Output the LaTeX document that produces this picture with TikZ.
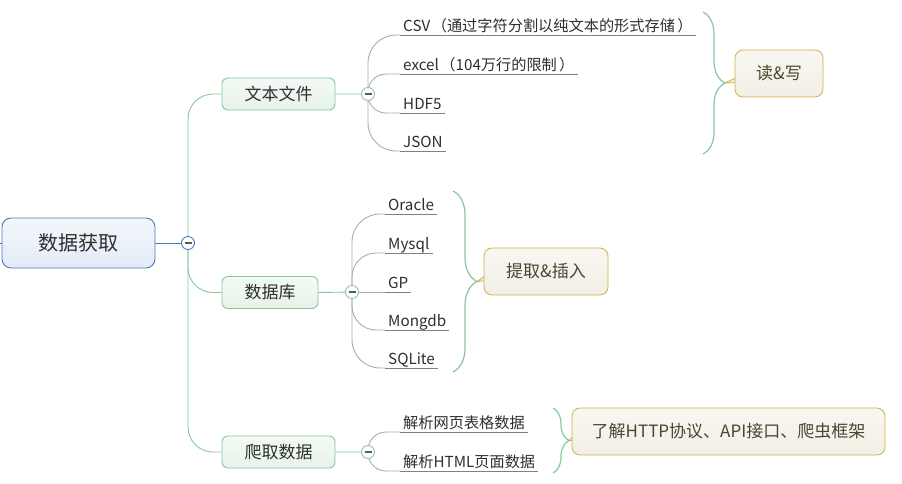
\documentclass[tikz,border=0pt]{standalone}
\usepackage{fontspec}
\setmainfont{Noto Sans CJK SC}
\usetikzlibrary{decorations.pathreplacing,backgrounds}
\definecolor{rootline}{HTML}{4A7AB8}
\definecolor{rootfill}{HTML}{E2EBF6}
\definecolor{midline}{HTML}{86C79C}
\definecolor{midfill}{HTML}{E6F3EA}
\definecolor{leafline}{HTML}{ABABAB}
\definecolor{sumline}{HTML}{D2AF45}
\definecolor{sumfill}{HTML}{F1EFE5}
\definecolor{sumtext}{HTML}{4D4431}
\definecolor{txt}{HTML}{2E2E2E}
\tikzset{
  rootbox/.style={draw=rootline, line width=0.9pt, rounded corners=9pt, top color=white!60!rootfill, bottom color=rootfill,
    minimum width=153pt, minimum height=50pt, font=\fontsize{20}{24}\selectfont, text=txt},
  midbox/.style={draw=midline, line width=0.9pt, rounded corners=6pt, top color=white!55!midfill, bottom color=midfill,
    minimum height=32pt, font=\fontsize{17}{20}\selectfont, text=txt},
  leaf/.style={anchor=south west, inner xsep=3pt, inner ysep=0.5pt, text height=11pt, text depth=3pt,
    font=\fontsize{15.2}{18}\selectfont, text=txt},
  sumbox/.style={draw=sumline, line width=0.8pt, rounded corners=8pt, top color=white!50!sumfill, bottom color=sumfill,
    minimum height=47pt, font=\fontsize{17}{20}\selectfont, text=sumtext},
  fold/.style={circle, draw=#1, fill=white, line width=0.9pt, minimum size=13pt, inner sep=0pt,
    path picture={\draw[line width=2pt, black!65] ([xshift=-3.5pt]path picture bounding box.center) -- ([xshift=3.5pt]path picture bounding box.center);}},
  trunk/.style={draw=midline, line width=0.9pt, rounded corners=25pt},
  twig/.style={draw=leafline, line width=0.9pt, rounded corners=18pt},
  uline/.style={draw=black!50, line width=0.8pt},
  bracket/.style={draw=midline, line width=1.2pt, decorate, decoration={brace, amplitude=#1}},
  pointer/.style={draw=sumline, fill=sumfill, line width=0.8pt, line join=round},
}
\newcommand\lpar{\kern0.1em（}
\newcommand\rpar{\kern0.15em）}
\begin{document}
\begin{tikzpicture}[x=1pt, y=-1pt]
    \useasboundingbox (0,0) rectangle (902,483);
    \node[rootbox] (root) at (78.5,243) {数据获取};
    \coordinate (edge) at (0,243);
    \node[fold=rootline] (f0) at (188,243) {};
    \node[midbox, minimum width=113pt] (text) at (278.5,94) {文本文件};
    \node[midbox, minimum width=96pt] (db) at (270,292.5) {数据库};
    \node[midbox, minimum width=113pt] (crawl) at (278.5,452) {爬取数据};
    \node[fold=midline] (f1) at (368,94) {};
    \node[fold=midline] (f2) at (352,292) {};
    \node[fold=midline] (f3) at (368,452) {};
    \node[leaf] (csv) at (400,35) {CSV\lpar 通过字符分割以纯文本的形式存储\rpar};
    \node[leaf] (excel) at (400,74) {excel\lpar 104万行的限制\rpar};
    \node[leaf] (hdf) at (400,113) {HDF5};
    \node[leaf] (json) at (400,151) {JSON};
    \node[leaf] (oracle) at (385,214) {Oracle};
    \node[leaf] (mysql) at (385,253) {Mysql};
    \node[leaf] (gp) at (385,292) {GP};
    \node[leaf] (mongo) at (385,330) {Mongdb};
    \node[leaf] (sqlite) at (385,368) {SQLite};
    \node[leaf] (table) at (400,432) {解析网页表格数据};
    \node[leaf] (html) at (400,471) {解析HTML页面数据};
    \node[sumbox, minimum width=88pt] (rw) at (779,73.5) {读\&写};
    \node[sumbox, minimum width=124pt] (fetch) at (546,271.5) {提取\&插入};
    \node[sumbox, minimum width=313pt] (learn) at (728.5,431.5) {了解HTTP协议、API接口、爬虫框架};
    \coordinate (t1) at (725,83);
    \coordinate (t2) at (477,281.5);
    \coordinate (t3) at (569,440.5);
    \begin{scope}[on background layer]
        \draw[rootline, line width=0.9pt] (edge) -- (root.west) (root.east) -- (f0);
        \draw[trunk] (f0.center) |- (text.west);
        \draw[trunk] (f0.center) |- (db.west);
        \draw[trunk] (f0.center) |- (crawl.west);
        \draw[midline, line width=0.9pt] (text.east) -- (f1) (db.east) -- (f2) (crawl.east) -- (f3);
        \draw[twig, rounded corners=28pt] (f1.center) |- (csv.south west);
        \draw[twig] (f1.center) |- (excel.south west);
        \draw[twig] (f1.center) |- (hdf.south west);
        \draw[twig, rounded corners=28pt] (f1.center) |- (json.south west);
        \draw[twig, rounded corners=28pt] (f2.center) |- (oracle.south west);
        \draw[twig, rounded corners=24pt] (f2.center) |- (mysql.south west);
        \draw[twig] (f2.center) -- (gp.south west);
        \draw[twig, rounded corners=24pt] (f2.center) |- (mongo.south west);
        \draw[twig, rounded corners=28pt] (f2.center) |- (sqlite.south west);
        \draw[twig] (f3.center) |- (table.south west);
        \draw[twig] (f3.center) |- (html.south west);
        \draw[pointer] (t1) -- ([shift={(4pt,-3pt)}]rw.west) -- ([shift={(4pt,-9pt)}]rw.west) -- cycle;
        \draw[pointer] (t2) -- ([shift={(4pt,-3pt)}]fetch.west) -- ([shift={(4pt,-9pt)}]fetch.west) -- cycle;
        \draw[pointer] (t3) -- ([shift={(4pt,-3pt)}]learn.west) -- ([shift={(4pt,-9pt)}]learn.west) -- cycle;
    \end{scope}
    \foreach \n in {csv,excel,hdf,json,oracle,mysql,gp,mongo,sqlite,table,html}
        \draw[uline] (\n.south west) -- (\n.south east);
    \draw[bracket=22pt] (703,12) -- (703,154);
    \draw[bracket=24pt] (453,191) -- (453,372);
    \draw[bracket=16pt] (553,408) -- (553,473);
\end{tikzpicture}
\end{document}
